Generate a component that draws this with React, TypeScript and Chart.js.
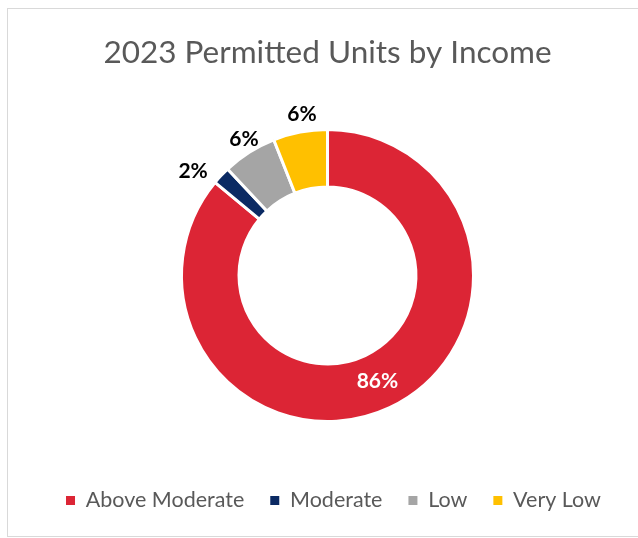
import React, { useEffect, useRef } from "react";
import { Chart, registerables } from "chart.js";

Chart.register(...registerables);

const categories = ["Above Moderate", "Moderate", "Low", "Very Low"];
const shares = [86, 2, 6, 6];
const percentLabels = ["86%", "2%", "6%", "6%"];
const sliceColors = ["#DC2535", "#0B2A63", "#A5A5A5", "#FFC000"];
const titleText = "2023 Permitted Units by Income";

const FONT = "Lato, 'Open Sans', sans-serif";

const sliceLabelPlugin = {
  id: "sliceLabels",
  afterDatasetsDraw(chart: any, _args: any, opts: any) {
    const meta = chart.getDatasetMeta(0);
    const ctx = chart.ctx;
    ctx.save();
    ctx.textAlign = "center";
    ctx.textBaseline = "middle";
    ctx.font = `bold ${opts.size}px ${FONT}`;
    meta.data.forEach((arc: any, i: number) => {
      const p = arc.getProps(["x", "y", "startAngle", "endAngle", "outerRadius", "innerRadius"], true);
      const mid = (p.startAngle + p.endAngle) / 2;
      let px: number;
      let py: number;
      if (shares[i] >= 10) {
        const r = (p.outerRadius + p.innerRadius) / 2;
        px = p.x + Math.cos(mid) * r;
        py = p.y + Math.sin(mid) * r;
        ctx.fillStyle = "#FFFFFF";
      } else {
        const r = p.outerRadius + opts.gap;
        const off = opts.offsets[i] || [0, 0];
        px = p.x + Math.cos(mid) * r + off[0];
        py = p.y + Math.sin(mid) * r + off[1];
        ctx.fillStyle = "#000000";
      }
      ctx.fillText(percentLabels[i], px, py);
    });
    ctx.restore();
  },
};

// nudges the bottom legend sideways, as in the reference layout
const legendShiftPlugin = {
  id: "legendShift",
  afterLayout(chart: any, _args: any, opts: any) {
    const lg = chart.legend;
    if (!lg) return;
    lg.left += opts.dx;
    lg.right += opts.dx;
  },
};

export default function App() {
  const canvasRef = useRef<HTMLCanvasElement | null>(null);

  useEffect(() => {
    const canvas = canvasRef.current;
    if (!canvas) return;
    const baseGen = (Chart as any).overrides.doughnut.plugins.legend.labels.generateLabels;
    const chart = new Chart(canvas, {
      type: "doughnut",
      data: {
        labels: categories,
        datasets: [
          {
            data: shares,
            backgroundColor: sliceColors,
            borderColor: "#FFFFFF",
            borderWidth: 3,
          },
        ],
      },
      options: {
        animation: false,
        responsive: false,
        radius: 146,
        cutout: "60.6%",
        layout: { padding: { left: 9, right: 0, top: 0, bottom: 14.75 } },
        plugins: {
          title: {
            display: true,
            text: titleText,
            color: "#595959",
            font: { family: FONT, size: 31.5, weight: "normal" },
            padding: { top: 24.6, bottom: 15.85 },
          },
          legend: {
            position: "bottom",
            labels: {
              color: "#595959",
              font: { family: FONT, size: 21.5 },
              boxWidth: 9,
              boxHeight: 9,
              padding: 26,
              generateLabels: (c: any) =>
                baseGen(c).map((l: any) => ({ ...l, lineWidth: 0, strokeStyle: "rgba(0,0,0,0)" })),
            },
          },
          tooltip: { enabled: false },
          legendShift: { dx: 6 },
          sliceLabels: {
            size: 21,
            gap: 20.5,
            offsets: [
              [0, 0],
              [-13, 9.5],
              [5.7, 4],
              [5.6, 2.5],
            ],
          },
        } as any,
      } as any,
      plugins: [sliceLabelPlugin, legendShiftPlugin],
    });
    return () => chart.destroy();
  }, []);

  return (
    <div
      style={{
        position: "absolute",
        left: 7,
        top: 8,
        width: 631,
        height: 529,
        boxSizing: "border-box",
        borderTop: "1px solid #d9d9d9",
        borderLeft: "1px solid #d9d9d9",
        borderBottom: "1px solid #d9d9d9",
        background: "#FFFFFF",
      }}
    >
      <canvas ref={canvasRef} width={630} height={527} style={{ display: "block", width: 630, height: 527 }} />
    </div>
  );
}
